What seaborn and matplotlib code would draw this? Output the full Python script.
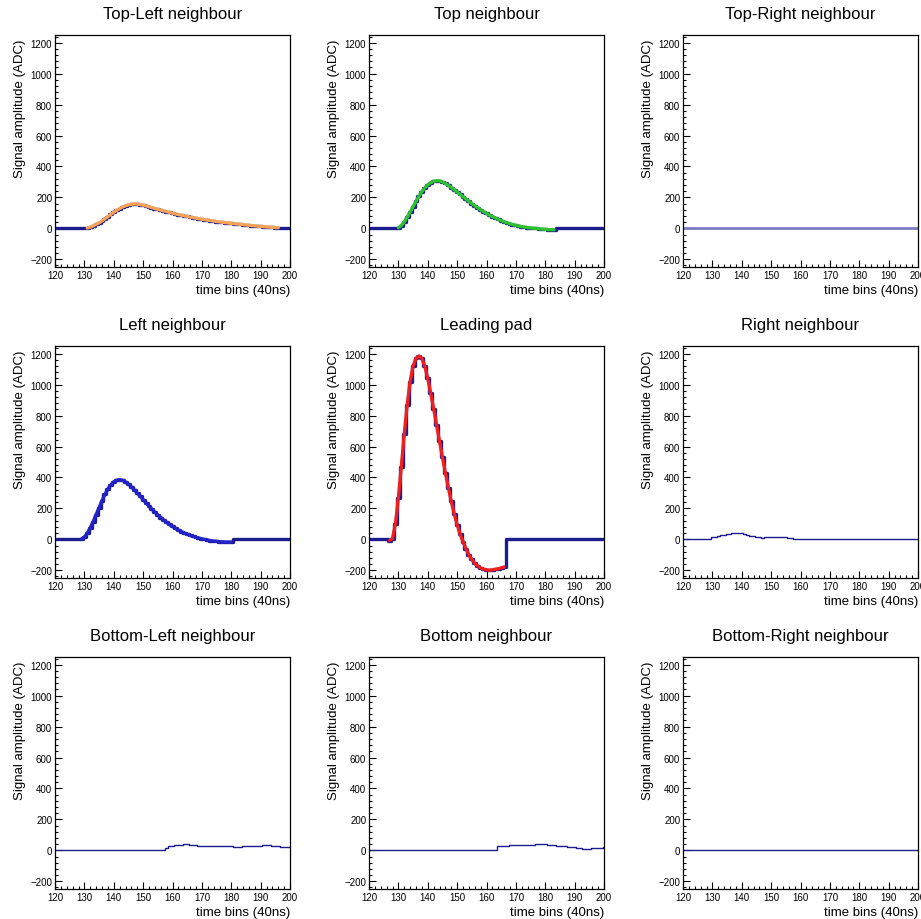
import numpy as np
import matplotlib
matplotlib.use("Agg")
import matplotlib.pyplot as plt
from matplotlib.ticker import MultipleLocator
import seaborn as sns

# time bins shown on every pad
time_bins = list(range(120, 201))

# pulse samples: first bin of the pulse + ADC values
top_left_start = 131
top_left_vals = [2, 8, 16, 26, 36, 48, 62, 76, 90, 104, 117, 128, 138, 146, 152,
                 156, 158, 157, 154, 150, 145, 140, 134, 128, 123, 118, 113, 108,
                 103, 98, 93, 89, 85, 81, 77, 73, 69, 66, 62, 59, 56, 53, 50, 47,
                 44, 42, 39, 37, 35, 32, 30, 28, 26, 24, 22, 20, 18, 16, 14, 12,
                 11, 9, 8, 6, 5, 4]

top_start = 130
top_vals = [4, 18, 42, 72, 105, 140, 175, 208, 238, 262, 281, 295, 304, 308, 307,
            300, 290, 278, 264, 250, 235, 220, 205, 190, 175, 160, 146, 133, 120,
            108, 97, 86, 76, 67, 58, 50, 42, 36, 30, 24, 19, 15, 11, 8, 5, 3, 1,
            -1, -3, -5, -7, -8, -9, -9]

left_start = 129
left_vals = [3, 15, 40, 75, 115, 160, 205, 250, 290, 325, 352, 372, 383, 386, 382,
             372, 357, 340, 320, 299, 278, 257, 236, 215, 195, 176, 158, 141, 125,
             110, 96, 83, 71, 60, 50, 41, 33, 26, 19, 13, 8, 3, -1, -5, -8, -11,
             -13, -15, -16, -17, -17, -17]

lead_start = 127
lead_vals = [-8, 5, 100, 270, 470, 680, 870, 1020, 1120, 1170, 1185, 1170, 1120,
             1040, 945, 845, 740, 635, 530, 430, 335, 245, 165, 95, 35, -15, -60,
             -100, -130, -155, -172, -185, -193, -198, -199, -197, -194, -190,
             -185, -179]

right_start = 130
right_vals = [12, 17, 21, 25, 29, 33, 37, 40, 42, 41, 38, 33, 28, 24, 20, 16,
              13, 10, 12, 15, 16, 15, 14, 14, 15, 13, 10, 8]

bottom_left_start = 158
bottom_left_vals = [14, 25, 30, 33, 35, 37, 39, 40, 36, 33, 32, 30, 28, 28, 27, 26,
                    26, 26, 27, 27, 26, 26, 26, 24, 22, 23, 26, 28, 29, 30, 30, 30,
                    31, 32, 33, 32, 31, 30, 28, 24, 20, 19, 19]

bottom_start = 164
bottom_vals = [28, 29, 30, 31, 32, 32, 33, 34, 34, 35, 35, 36, 37, 38, 39, 39, 38,
               36, 34, 32, 30, 28, 27, 25, 23, 21, 19, 16, 13, 10, 9, 11, 13, 15,
               17, 18, 19]

titles = ["Top-Left neighbour", "Top neighbour", "Top-Right neighbour",
          "Left neighbour", "Leading pad", "Right neighbour",
          "Bottom-Left neighbour", "Bottom neighbour", "Bottom-Right neighbour"]

sns.set_style("ticks")
plt.rcParams["font.family"] = ["Liberation Sans", "DejaVu Sans"]
plt.rcParams["text.color"] = "black"
plt.rcParams["axes.labelcolor"] = "black"
plt.rcParams["xtick.color"] = "black"
plt.rcParams["ytick.color"] = "black"

NAVY = "#1c1c8e"


def full_signal(start, vals):
    sig = np.zeros(len(time_bins))
    i = start - time_bins[0]
    sig[i:i + len(vals)] = vals
    return sig


# (start, values, fit colour, thick?)
pads = [
    (top_left_start, top_left_vals, "#f5a35a", True),
    (top_start, top_vals, "#2fc22f", True),
    (None, [], None, False),
    (left_start, left_vals, "#2323c8", True),
    (lead_start, lead_vals, "#f01e1e", True),
    (right_start, right_vals, None, False),
    (bottom_left_start, bottom_left_vals, None, False),
    (bottom_start, bottom_vals, None, False),
    (None, [], None, False),
]

fig = plt.figure(figsize=(9.21, 9.20), dpi=100)
W, H = 921, 920
col_left = [55, 369, 683]
row_top = [36, 347, 658]
ax_w, ax_h = 235, 232

for k, (start, vals, fit_col, thick) in enumerate(pads):
    r, c = divmod(k, 3)
    ax = fig.add_axes([col_left[c] / W, (H - row_top[r] - ax_h) / H, ax_w / W, ax_h / H])

    if start is None:
        sig = np.zeros(len(time_bins))
    else:
        sig = full_signal(start, vals)

    if k == 2:
        # flat pad drawn with a lighter, wider line
        sns.lineplot(x=time_bins, y=sig, estimator=None, drawstyle="steps-mid",
                     color="#7b7bc6", lw=2.0, ax=ax)
    else:
        sns.lineplot(x=time_bins, y=sig, estimator=None, drawstyle="steps-mid",
                     color=NAVY, lw=2.4 if thick else 1.0, ax=ax)

    if fit_col is not None:
        fit_t = list(range(start, start + len(vals)))
        sns.lineplot(x=fit_t, y=vals, estimator=None, color=fit_col, lw=2.4, ax=ax)

    ax.set_xlim(120, 200)
    ax.set_ylim(-250, 1250)
    ax.xaxis.set_major_locator(MultipleLocator(10))
    ax.xaxis.set_minor_locator(MultipleLocator(2))
    ax.yaxis.set_major_locator(MultipleLocator(200))
    ax.yaxis.set_minor_locator(MultipleLocator(40))
    ax.tick_params(which="both", direction="in", top=False, right=False,
                   labelsize=7, colors="black", width=0.8)
    ax.tick_params(which="major", length=5, pad=2)
    ax.tick_params(which="minor", length=2.5)
    for sp in ax.spines.values():
        sp.set_visible(True)
        sp.set_linewidth(0.9)
        sp.set_color("black")

    ax.set_title(titles[k], fontsize=12, pad=12, color="black")
    ax.set_ylabel("Signal amplitude (ADC)", fontsize=9.5, loc="top")
    ax.yaxis.set_label_coords(-0.125, 0.985)
    ax.set_xlabel("time bins (40ns)", fontsize=9.5, loc="right")
    ax.xaxis.set_label_coords(1.0, -0.075)

fig.savefig("out.png", dpi=100)
